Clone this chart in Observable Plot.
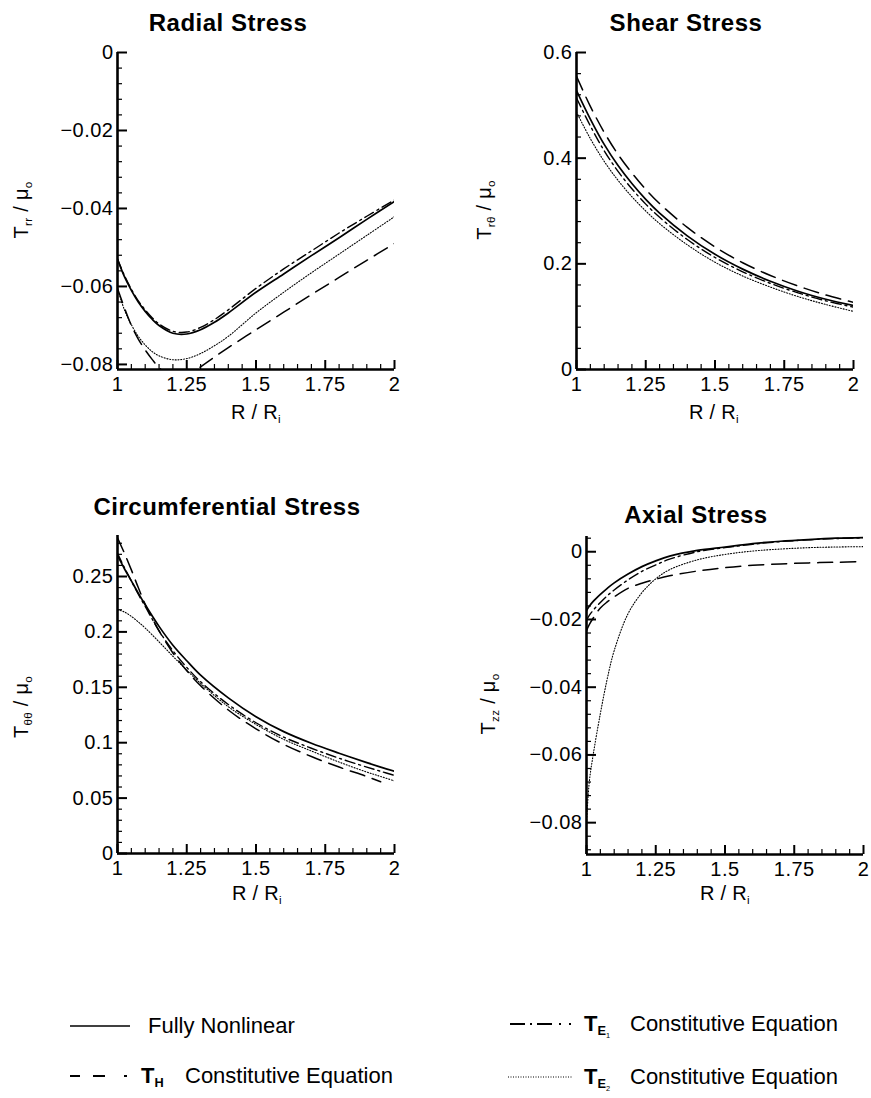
<!DOCTYPE html>
<html><head><meta charset="utf-8">
<script src="https://cdn.jsdelivr.net/npm/d3@7"></script>
<script src="https://cdn.jsdelivr.net/npm/@observablehq/plot@0.6"></script>
<style>
body{margin:0;background:#fff;}
#fig{position:relative;width:871px;height:1098px;background:#fff;font-family:"Liberation Sans",Arial,Helvetica,sans-serif;color:#000;overflow:hidden;}
.t{position:absolute;transform:translate(-50%,-50%);white-space:nowrap;line-height:1;}
.title{font-weight:bold;font-size:24px;letter-spacing:0.5px;}
.xl{font-size:20px;letter-spacing:0.3px;}
.yl{font-size:20px;letter-spacing:0.3px;transform:translate(-50%,-50%) rotate(-90deg);}
.s{font-size:0.58em;position:relative;top:0.35em;}
.leg{position:absolute;font-size:22px;white-space:nowrap;line-height:1;transform:translateY(-50%);}
.legsw{position:absolute;overflow:visible;}
#fig svg text{letter-spacing:0.5px;}
</style></head><body><div id="fig"></div>
<script>
// ---------- data ----------
const xMajor = [1, 1.25, 1.5, 1.75, 2];

const radialX    = [1, 1.025, 1.05, 1.075, 1.1, 1.125, 1.15, 1.2, 1.25, 1.3, 1.35, 1.4, 1.5, 1.6, 1.7, 1.8, 1.9, 2];
const radialFull = [-0.0530, -0.0575, -0.0610, -0.0640, -0.0664, -0.0684, -0.0700, -0.0720, -0.0722, -0.0711, -0.0692, -0.0668, -0.0615, -0.0568, -0.0521, -0.0475, -0.0428, -0.0382];
const radialTH   = [-0.0605, -0.0655, -0.0700, -0.0735, -0.0763, -0.0787, -0.0808, -0.0834, -0.0832, -0.0806, -0.0781, -0.0757, -0.0711, -0.0666, -0.0621, -0.0577, -0.0533, -0.0490];
const radialTE1  = [-0.0530, -0.0572, -0.0607, -0.0637, -0.0660, -0.0680, -0.0696, -0.0715, -0.0717, -0.0705, -0.0685, -0.0660, -0.0605, -0.0555, -0.0509, -0.0463, -0.0420, -0.0378];
const radialTE2  = [-0.0605, -0.0660, -0.0698, -0.0728, -0.0750, -0.0767, -0.0778, -0.0788, -0.0785, -0.0772, -0.0752, -0.0728, -0.0668, -0.0615, -0.0565, -0.0517, -0.0469, -0.0421];
const radialYTicks = [-0.08, -0.06, -0.04, -0.02, 0];

const shearX    = [1, 1.05, 1.1, 1.15, 1.2, 1.25, 1.3, 1.4, 1.5, 1.6, 1.7, 1.8, 1.9, 2];
const shearFull = [0.528, 0.474, 0.426, 0.386, 0.352, 0.322, 0.296, 0.253, 0.218, 0.190, 0.167, 0.148, 0.133, 0.121];
const shearTH   = [0.555, 0.498, 0.449, 0.407, 0.372, 0.341, 0.314, 0.269, 0.232, 0.202, 0.178, 0.158, 0.141, 0.127];
const shearTE1  = [0.514, 0.461, 0.414, 0.375, 0.342, 0.313, 0.288, 0.246, 0.212, 0.185, 0.163, 0.145, 0.130, 0.118];
const shearTE2  = [0.487, 0.437, 0.394, 0.358, 0.327, 0.300, 0.276, 0.236, 0.203, 0.177, 0.156, 0.138, 0.123, 0.110];
const shearYTicks = [0, 0.2, 0.4, 0.6];

const circX    = [1, 1.025, 1.05, 1.075, 1.1, 1.15, 1.2, 1.25, 1.3, 1.4, 1.5, 1.6, 1.7, 1.8, 1.9, 1.95, 2];
const circFull = [0.269, 0.257, 0.246, 0.235, 0.2245, 0.205, 0.188, 0.174, 0.161, 0.1405, 0.1235, 0.1100, 0.0995, 0.0905, 0.0820, 0.0780, 0.0743];
const circTH   = [0.285, 0.271, 0.256, 0.240, 0.225, 0.201, 0.181, 0.165, 0.1515, 0.1295, 0.1125, 0.0985, 0.0875, 0.0780, 0.0695, 0.0648, null];
const circTE1  = [0.271, 0.258, 0.246, 0.234, 0.223, 0.201, 0.183, 0.168, 0.155, 0.1345, 0.118, 0.105, 0.095, 0.086, 0.078, 0.0742, 0.0705];
const circTE2  = [0.220, 0.218, 0.214, 0.209, 0.2035, 0.191, 0.178, 0.1655, 0.1535, 0.1325, 0.1165, 0.103, 0.0925, 0.0825, 0.0735, 0.0695, 0.0655];
const circYTicks = [0, 0.05, 0.1, 0.15, 0.2, 0.25];

const axialX    = [1, 1.01, 1.025, 1.05, 1.075, 1.1, 1.15, 1.2, 1.25, 1.3, 1.4, 1.5, 1.6, 1.7, 1.8, 1.9, 2];
const axialFull = [-0.0174, -0.0161, -0.0146, -0.0126, -0.0108, -0.0092, -0.0066, -0.0044, -0.0027, -0.0013, 0.0004, 0.0014, 0.0024, 0.0031, 0.0036, 0.0040, 0.0042];
const axialTH   = [-0.0233, -0.0215, -0.0195, -0.0166, -0.0148, -0.0133, -0.0108, -0.0093, -0.0081, -0.0071, -0.0057, -0.0047, -0.0040, -0.0036, -0.0033, -0.0031, -0.0029];
const axialTE1  = [-0.0202, -0.0188, -0.0172, -0.0150, -0.0130, -0.0113, -0.0083, -0.0058, -0.0039, -0.0022, 0.0000, 0.0012, 0.0022, 0.0030, 0.0035, 0.0039, 0.0041];
const axialTE2  = [-0.0800, -0.0680, -0.0595, -0.0478, -0.0375, -0.0292, -0.0183, -0.0121, -0.0080, -0.0053, -0.0024, -0.0008, 0.0002, 0.0008, 0.0012, 0.0014, 0.0015];
const axialYTicks = [-0.08, -0.06, -0.04, -0.02, 0];

const legendLabels = ["Fully Nonlinear", "Constitutive Equation", "Constitutive Equation", "Constitutive Equation"];

// ---------- styles ----------
const lineStyles = {
  full: {strokeWidth: 1.7},
  th:   {strokeWidth: 1.5, strokeDasharray: "15,8"},
  te1:  {strokeWidth: 1.4, strokeDasharray: "10,4,2,4"},
  te2:  {strokeWidth: 1.1, strokeDasharray: "1,1.8"}
};
const fmt = d => d === 0 ? "0" : (d < 0 ? "\u2212" + String(-d) : String(d));
const xMinor = d3.range(0, 21).filter(i => i % 5 !== 0).map(i => 1 + i * 0.05);

const fig = document.getElementById("fig");

function makePanel(p) {
  const ml = 72, mr = 8, mt = 14, mb = 38, pw = 277, ph = p.ph;
  const marks = [];
  for (const [key, vals] of Object.entries(p.series)) {
    const data = p.x.map((x, i) => ({x, y: vals[i]}));
    marks.push(Plot.line(data, {x: "x", y: "y", stroke: "black", curve: "catmull-rom", clip: true, fill: "none", ...lineStyles[key]}));
  }
  const ymin = p.ydomain[0];
  const chart = Plot.plot({
    width: pw + ml + mr, height: ph + mt + mb,
    marginLeft: ml, marginRight: mr, marginTop: mt, marginBottom: mb,
    style: {background: "transparent", overflow: "visible", fontFamily: "'Liberation Sans', Arial, sans-serif", color: "black"},
    x: {domain: [1, 2]},
    y: {domain: p.ydomain},
    marks: [
      Plot.tickY(p.yMinor, {y: d => d, insetRight: pw - 5, stroke: "black", strokeWidth: 1.2}),
      Plot.tickY(p.yMajor, {y: d => d, insetRight: pw - 10, stroke: "black", strokeWidth: 2}),
      Plot.tickX(xMinor, {x: d => d, insetTop: ph - 5, stroke: "black", strokeWidth: 1.2}),
      Plot.tickX(xMajor, {x: d => d, insetTop: ph - 9, stroke: "black", strokeWidth: 2}),
      Plot.axisX(xMajor, {tickSize: 0, tickPadding: 7, tickFormat: fmt, fontSize: 20, label: null}),
      Plot.axisY(p.yMajor, {tickSize: 0, tickPadding: 4, tickFormat: fmt, fontSize: 20, label: null}),
      ...marks,
      Plot.ruleX([1], {stroke: "black", strokeWidth: 2.6}),
      Plot.ruleY([ymin], {stroke: "black", strokeWidth: 2.6})
    ]
  });
  chart.style.position = "absolute";
  chart.style.left = (p.left - ml) + "px";
  chart.style.top = (p.top - mt) + "px";
  fig.appendChild(chart);

  const title = document.createElement("div");
  title.className = "t title";
  title.textContent = p.title;
  title.style.left = p.titlePos[0] + "px"; title.style.top = p.titlePos[1] + "px";
  fig.appendChild(title);

  const xl = document.createElement("div");
  xl.className = "t xl";
  xl.innerHTML = 'R / R<span class="s">i</span>';
  xl.style.left = p.xlPos[0] + "px"; xl.style.top = p.xlPos[1] + "px";
  fig.appendChild(xl);

  const yl = document.createElement("div");
  yl.className = "t yl";
  yl.innerHTML = 'T<span class="s">' + p.sub + '</span> / \u03bc<span class="s">o</span>';
  yl.style.left = p.ylPos[0] + "px"; yl.style.top = p.ylPos[1] + "px";
  fig.appendChild(yl);
}

makePanel({
  title: "Radial Stress", sub: "rr",
  left: 117, top: 52, ph: 317, ydomain: [-0.0813, 0],
  yMajor: radialYTicks, yMinor: d3.range(-20, 1).filter(i => i % 5 !== 0).map(i => i * 0.004),
  x: radialX, series: {te2: radialTE2, th: radialTH, te1: radialTE1, full: radialFull},
  titlePos: [228, 23], xlPos: [256, 412], ylPos: [21, 210]
});
makePanel({
  title: "Shear Stress", sub: "r\u03b8",
  left: 576, top: 52, ph: 317, ydomain: [0, 0.6],
  yMajor: shearYTicks, yMinor: d3.range(0, 16).filter(i => i % 5 !== 0).map(i => i * 0.04),
  x: shearX, series: {te2: shearTE2, th: shearTH, te1: shearTE1, full: shearFull},
  titlePos: [686, 23], xlPos: [714, 412], ylPos: [484, 210]
});
makePanel({
  title: "Circumferential Stress", sub: "\u03b8\u03b8",
  left: 117, top: 535, ph: 318, ydomain: [0, 0.287],
  yMajor: circYTicks, yMinor: d3.range(0, 29).filter(i => i % 5 !== 0).map(i => i * 0.01),
  x: circX, series: {te2: circTE2, th: circTH, te1: circTE1, full: circFull},
  titlePos: [227, 507], xlPos: [257, 893], ylPos: [21, 707]
});
makePanel({
  title: "Axial Stress", sub: "zz",
  left: 586, top: 536, ph: 318, ydomain: [-0.0894, 0.0045],
  yMajor: axialYTicks, yMinor: d3.range(-22, 2).filter(i => i % 5 !== 0).map(i => i * 0.004),
  x: axialX, series: {te2: axialTE2, th: axialTH, te1: axialTE1, full: axialFull},
  titlePos: [696, 515], xlPos: [725, 893], ylPos: [488, 704]
});

// ---------- legend ----------
function swatch(x, y, w, style) {
  const ns = "http://www.w3.org/2000/svg";
  const svg = document.createElementNS(ns, "svg");
  svg.setAttribute("class", "legsw");
  svg.setAttribute("width", w); svg.setAttribute("height", 10);
  svg.style.left = x + "px"; svg.style.top = (y - 5) + "px";
  const l = document.createElementNS(ns, "line");
  l.setAttribute("x1", 0); l.setAttribute("x2", w); l.setAttribute("y1", 5); l.setAttribute("y2", 5);
  l.setAttribute("stroke", "black");
  l.setAttribute("stroke-width", style.w);
  if (style.dash) l.setAttribute("stroke-dasharray", style.dash);
  svg.appendChild(l);
  fig.appendChild(svg);
}
function legText(x, y, html) {
  const d = document.createElement("div");
  d.className = "leg";
  d.innerHTML = html;
  d.style.left = x + "px"; d.style.top = y + "px";
  fig.appendChild(d);
}
swatch(70, 1026, 60, {w: 1.7});
legText(148, 1026, legendLabels[0]);
swatch(70, 1076, 57, {w: 2, dash: "10,13,12,19,3,100"});
legText(141, 1076, '<b>T<span class="s">H</span></b>');
legText(185, 1076, legendLabels[1]);
swatch(510, 1024, 62, {w: 1.8, dash: "15,5,2,5,15,7,2,8,2,100"});
legText(584, 1024, '<b>T<span class="s">E<span class="s" style="font-weight:normal">1</span></span></b>');
legText(630, 1024, legendLabels[2]);
swatch(508, 1077, 64, {w: 1.2, dash: "1,1.5"});
legText(584, 1077, '<b>T<span class="s">E<span class="s" style="font-weight:normal">2</span></span></b>');
legText(630, 1077, legendLabels[3]);
</script></body></html>
